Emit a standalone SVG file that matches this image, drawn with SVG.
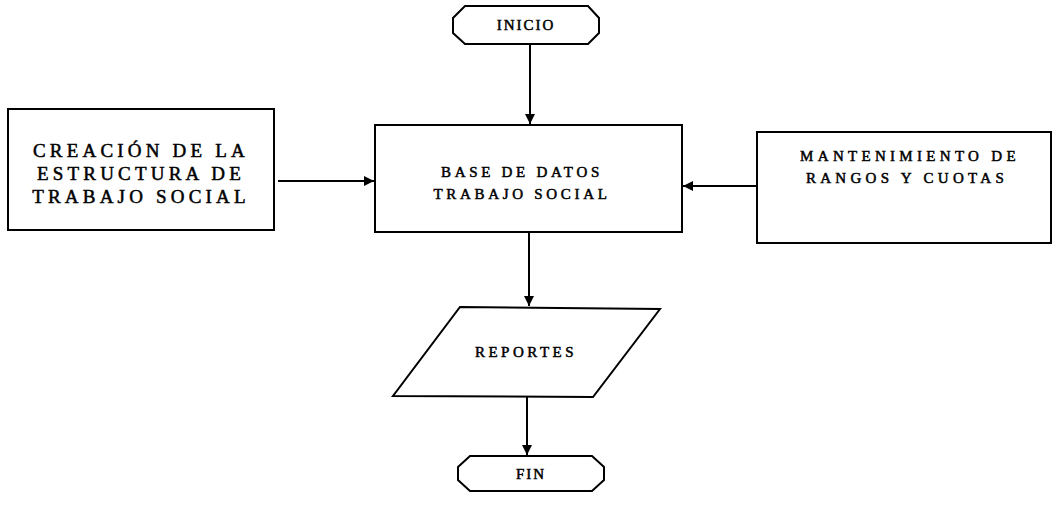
<svg xmlns="http://www.w3.org/2000/svg" width="1056" height="508" viewBox="0 0 1056 508">
<defs>
<style>
.s{fill:#fff;stroke:#000;stroke-width:2}
.t{font-family:"Liberation Serif",serif;font-weight:normal;fill:#000;stroke:#000;stroke-width:0.5;text-anchor:middle}
.c{stroke:#000;stroke-width:2;fill:none;marker-end:url(#a)}
</style>
<marker id="a" viewBox="0 0 10 10" refX="10" refY="5" markerWidth="11" markerHeight="10" markerUnits="userSpaceOnUse" orient="auto"><path d="M0,0 L10,5 L0,10 Z" fill="#000"/></marker>
</defs>
<rect width="1056" height="508" fill="#fff"/>
<g id="connectors">
<line class="c" x1="530" y1="44" x2="530" y2="124"/>
<line class="c" x1="278" y1="181" x2="374" y2="181"/>
<line class="c" x1="757" y1="186" x2="683" y2="186"/>
<line class="c" x1="529" y1="233" x2="529" y2="306"/>
<line class="c" x1="527" y1="397" x2="527" y2="455"/>
</g>
<g id="inicio">
<path class="s" d="M465,6 L588,6 L599,18 L599,33 L588,44 L465,44 L453,33 L453,18 Z"/>
<text class="t" x="526" y="30" font-size="15" letter-spacing="2">INICIO</text>
</g>
<g id="creacion">
<rect class="s" x="8" y="109" width="266" height="121"/>
<text class="t" x="141" y="157" font-size="19" letter-spacing="4.2">CREACIÓN DE LA</text>
<text class="t" x="141" y="180" font-size="19" letter-spacing="4.2">ESTRUCTURA DE</text>
<text class="t" x="141" y="203" font-size="19" letter-spacing="4.2">TRABAJO SOCIAL</text>
</g>
<g id="base">
<rect class="s" x="375" y="125" width="307" height="107"/>
<text class="t" x="522" y="177" font-size="15" letter-spacing="3.7">BASE DE DATOS</text>
<text class="t" x="522" y="199" font-size="15" letter-spacing="3.7">TRABAJO SOCIAL</text>
</g>
<g id="mantenimiento">
<rect class="s" x="757" y="132" width="294" height="111"/>
<text class="t" x="910" y="161" font-size="15" letter-spacing="4.3">MANTENIMIENTO DE</text>
<text class="t" x="907" y="183" font-size="15" letter-spacing="4.3">RANGOS Y CUOTAS</text>
</g>
<g id="reportes">
<path class="s" d="M460,307 L660,309 L593,397 L393,396 Z"/>
<text class="t" x="526" y="357" font-size="15" letter-spacing="3.5">REPORTES</text>
</g>
<g id="fin">
<path class="s" d="M470,456 L592,456 L604,467 L604,480 L592,491 L470,491 L458,480 L458,467 Z"/>
<text class="t" x="531" y="479" font-size="15" letter-spacing="2">FIN</text>
</g>
</svg>
